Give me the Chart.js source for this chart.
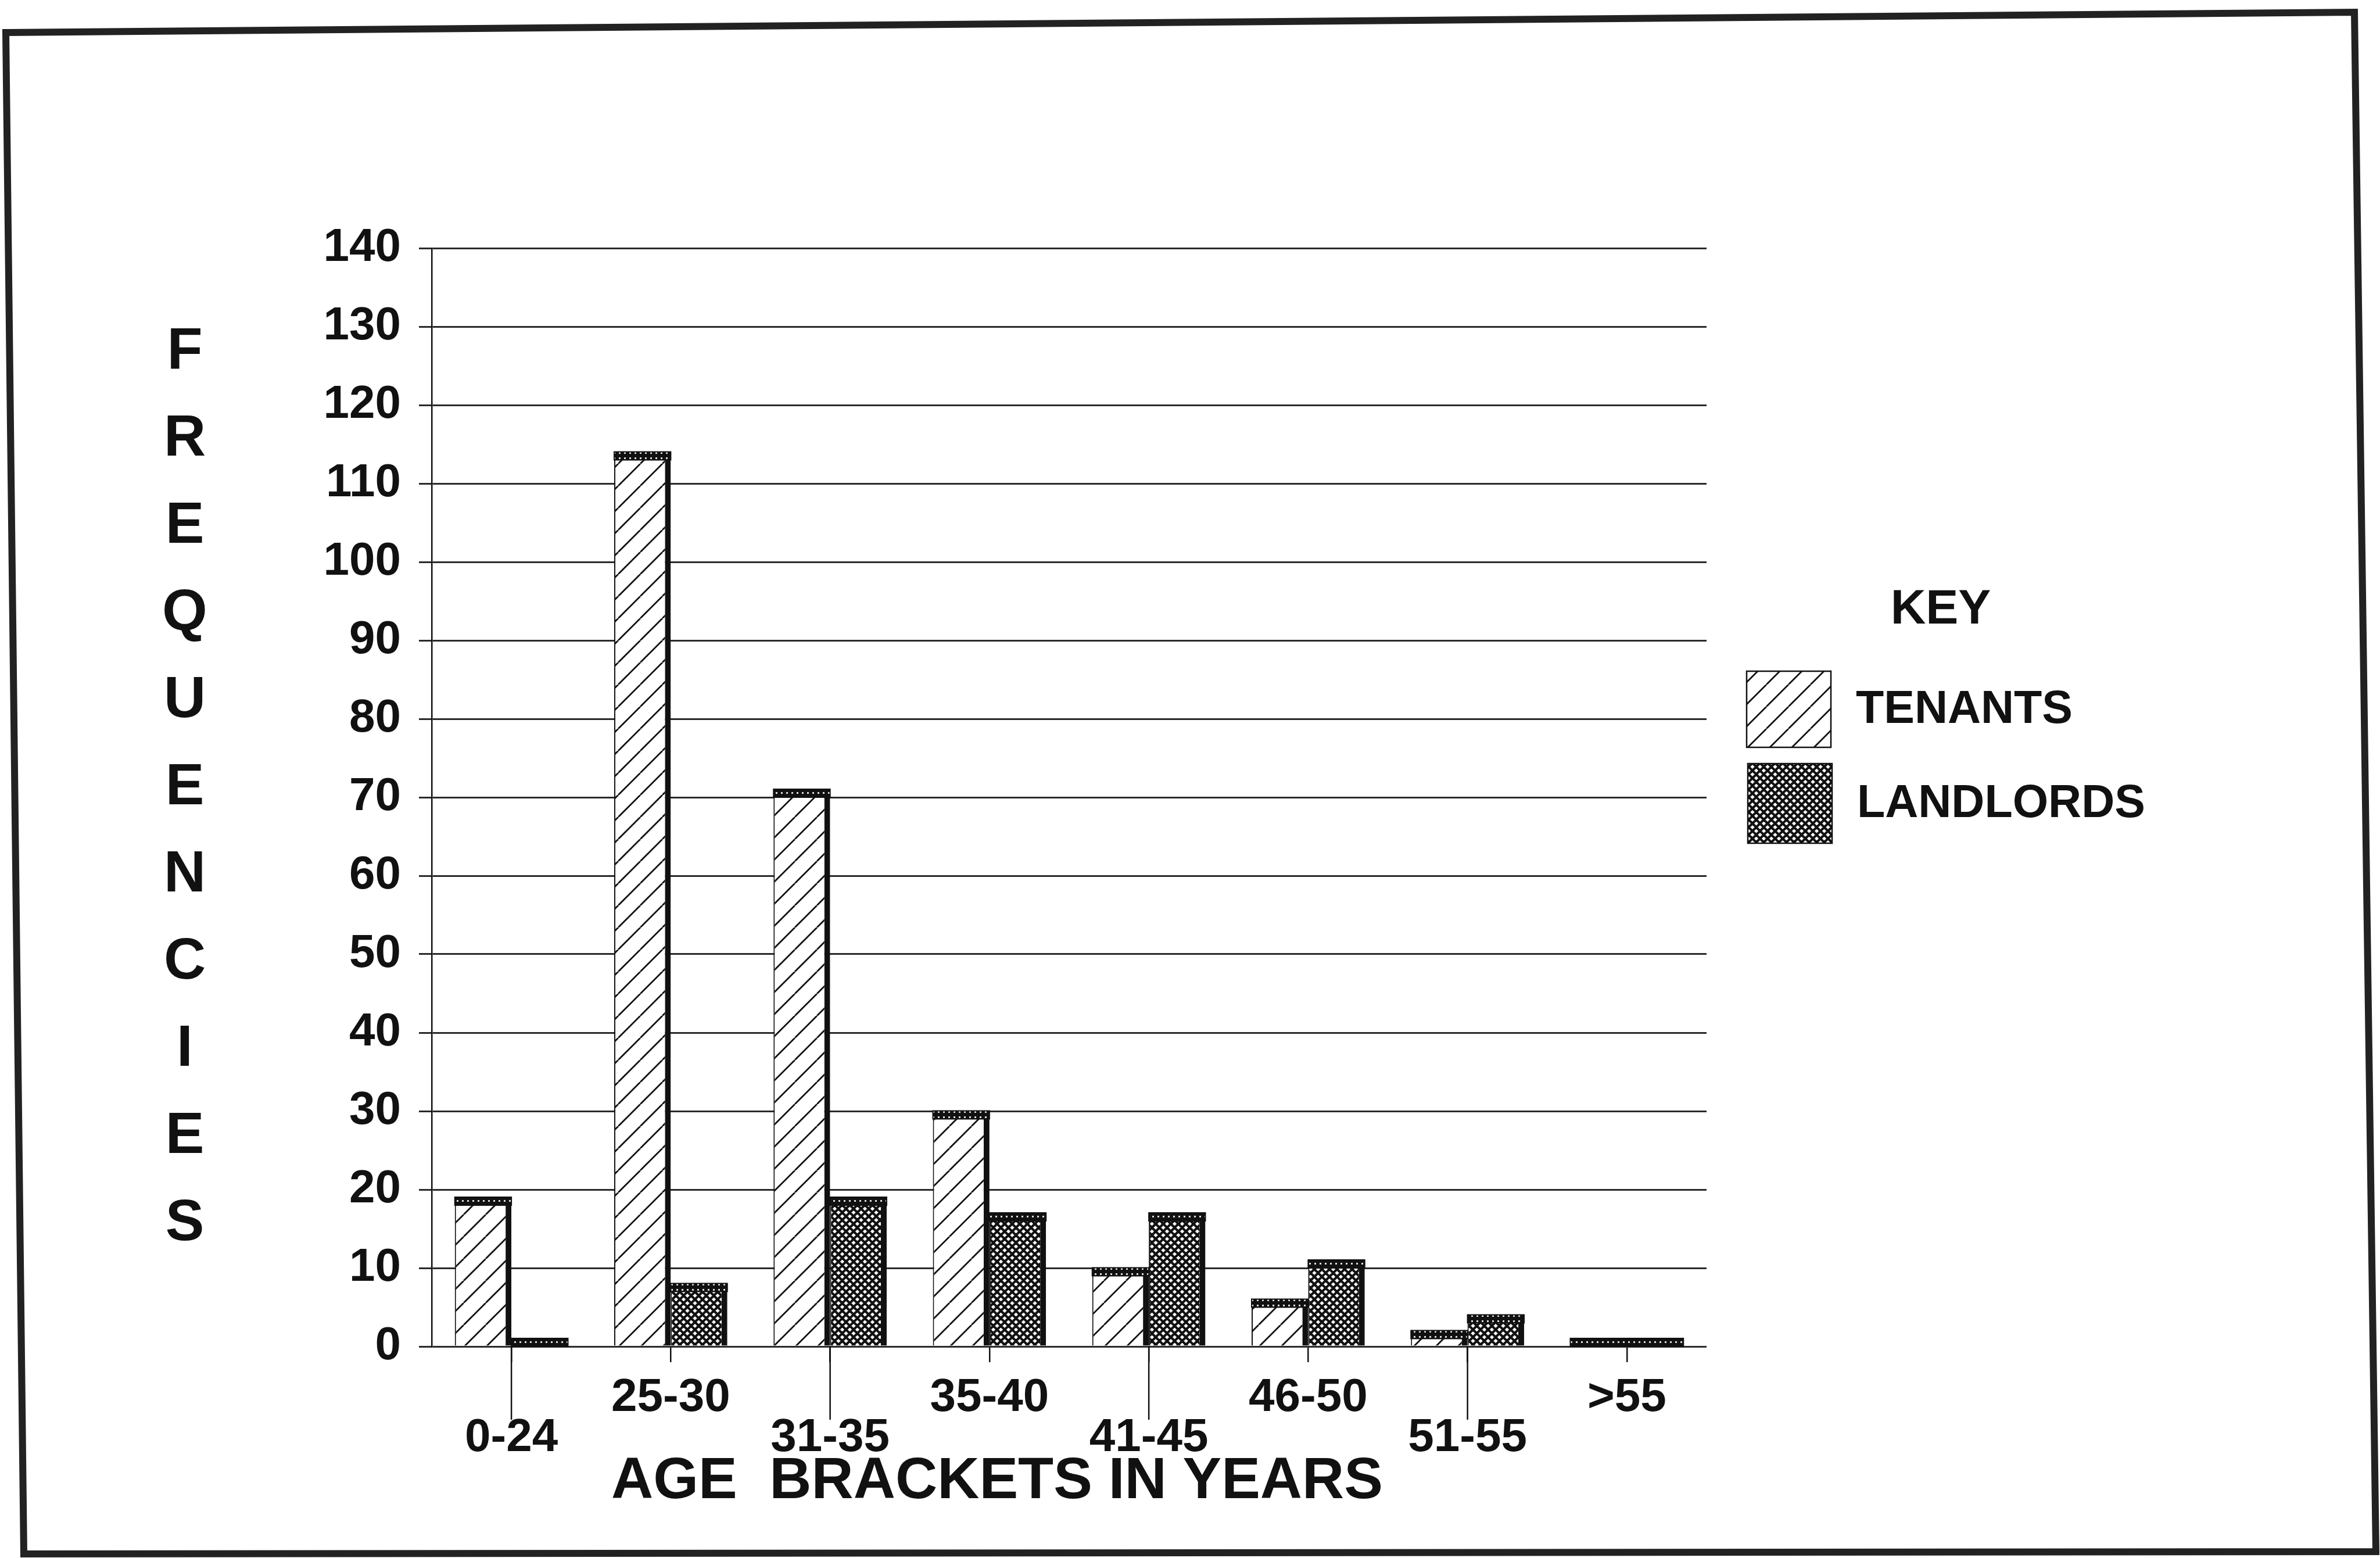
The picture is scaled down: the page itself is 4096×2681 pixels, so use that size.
<!DOCTYPE html>
<html>
<head>
<meta charset="utf-8">
<script src="https://cdn.jsdelivr.net/npm/chart.js@4.4.1/dist/chart.umd.min.js"></script>
<style>
  html, body { margin: 0; padding: 0; background: #fff; }
  #ageChart { display: block; }
</style>
</head>
<body>
<canvas id="ageChart" width="4096" height="2681"></canvas>
<script>
// Categories on the x axis
const ageBrackets = ['0-24', '25-30', '31-35', '35-40', '41-45', '46-50', '51-55', '>55'];

// Frequencies
const tenants = [18, 113, 70, 29, 9, 5, 1, 0];
const landlords = [0, 7, 18, 16, 16, 10, 3, 0];

// y axis range
const yMin = 0;
const yMax = 140;
const yStep = 10;

const seriesNames = ['TENANTS', 'LANDLORDS'];
const yTitle = 'FREQUENCIES';
const xTitle = 'AGE  BRACKETS IN YEARS';
const keyTitle = 'KEY';

const FONT = "'Liberation Sans', Arial, Helvetica, sans-serif";
const INK = '#111';

const canvas = document.getElementById('ageChart');
const ctx = canvas.getContext('2d');

// diagonal hatch for tenants
function makeHatch() {
  const s = 38;
  const c = document.createElement('canvas');
  c.width = s; c.height = s;
  const g = c.getContext('2d');
  g.fillStyle = '#fff';
  g.fillRect(0, 0, s, s);
  g.strokeStyle = INK;
  g.lineWidth = 2.8;
  g.beginPath();
  for (let k = -1; k <= 1; k++) {
    g.moveTo(k * s, s);
    g.lineTo(k * s + s, 0);
  }
  g.stroke();
  return ctx.createPattern(c, 'repeat');
}

// fine cross hatch for landlords
function makeCross() {
  const s = 13;
  const c = document.createElement('canvas');
  c.width = s; c.height = s;
  const g = c.getContext('2d');
  g.fillStyle = '#fff';
  g.fillRect(0, 0, s, s);
  g.strokeStyle = INK;
  g.lineWidth = 4.2;
  g.beginPath();
  for (let k = -1; k <= 1; k++) {
    g.moveTo(k * s, 0); g.lineTo(k * s + s, s);
    g.moveTo(k * s, s); g.lineTo(k * s + s, 0);
  }
  g.stroke();
  return ctx.createPattern(c, 'repeat');
}

// dark dotted band for the 3d tops
function makeCap() {
  const c = document.createElement('canvas');
  c.width = 9; c.height = 9;
  const g = c.getContext('2d');
  g.fillStyle = INK;
  g.fillRect(0, 0, 9, 9);
  g.fillStyle = '#ddd';
  g.fillRect(3, 4, 3, 3);
  return ctx.createPattern(c, 'repeat');
}

const hatch = makeHatch();
const cross = makeCross();
const cap = makeCap();

// top band drawn above every bar, like the old 3d look
const barCaps = {
  id: 'barCaps',
  afterDatasetsDraw(chart) {
    const c = chart.ctx;
    const capH = 14;
    chart.data.datasets.forEach((ds, di) => {
      chart.getDatasetMeta(di).data.forEach(bar => {
        const { x, y, width } = bar.getProps(['x', 'y', 'width'], true);
        c.save();
        c.fillStyle = cap;
        c.fillRect(x - width / 2, y - capH, width, capH);
        c.strokeStyle = INK;
        c.lineWidth = 2;
        c.strokeRect(x - width / 2, y - capH, width, capH);
        c.restore();
      });
    });
  }
};

// titles, key, long ticks and the frame
const decorations = {
  id: 'decorations',
  beforeDraw(chart) {
    const c = chart.ctx;
    c.save();
    c.fillStyle = '#fff';
    c.fillRect(0, 0, chart.width, chart.height);
    c.restore();
  },
  afterDraw(chart) {
    const c = chart.ctx;
    const area = chart.chartArea;
    const xs = chart.scales.x;
    c.save();

    // longer ticks reaching the lower row of labels
    c.strokeStyle = INK;
    c.lineWidth = 2.5;
    ageBrackets.forEach((b, i) => {
      if (i % 2 !== 0) return;
      const px = xs.getPixelForTick(i);
      c.beginPath();
      c.moveTo(px, area.bottom);
      c.lineTo(px, area.bottom + 126);
      c.stroke();
    });

    c.fillStyle = INK;
    c.textBaseline = 'middle';

    // stacked y title
    c.textAlign = 'center';
    c.font = 'bold 100px ' + FONT;
    yTitle.split('').forEach((ch, i) => {
      c.fillText(ch, 318, 606 + 150 * i);
    });

    // x title
    c.font = 'bold 100px ' + FONT;
    c.fillText(xTitle, 1716, 2550);

    // key
    c.font = 'bold 84px ' + FONT;
    c.fillText(keyTitle, 3340, 1050);
    const boxes = [[3006, 1155, 145, 131], [3008, 1314, 145, 137]];
    chart.data.datasets.forEach((ds, i) => {
      const [bx, by, bw, bh] = boxes[i];
      c.fillStyle = ds.backgroundColor;
      c.fillRect(bx, by, bw, bh);
      c.strokeStyle = INK;
      c.lineWidth = 2.5;
      c.strokeRect(bx, by, bw, bh);
      c.fillStyle = INK;
      c.textAlign = 'left';
      c.font = 'bold 79px ' + FONT;
      c.fillText(ds.label, bx + 188, by + bh / 2 + 2);
    });

    // scanned frame
    c.strokeStyle = '#222';
    c.lineWidth = 12;
    c.beginPath();
    c.moveTo(10, 56);
    c.lineTo(4052, 21);
    c.lineTo(4089, 2670);
    c.lineTo(41, 2674);
    c.closePath();
    c.stroke();
    c.restore();
  }
};

Chart.defaults.font.family = FONT;
Chart.defaults.color = INK;

new Chart(ctx, {
  type: 'bar',
  data: {
    labels: ageBrackets,
    datasets: [
      {
        label: seriesNames[0],
        data: tenants,
        backgroundColor: hatch,
        borderColor: INK,
        borderWidth: { left: 2, right: 10, top: 0, bottom: 0 },
        borderSkipped: false
      },
      {
        label: seriesNames[1],
        data: landlords,
        backgroundColor: cross,
        borderColor: INK,
        borderWidth: { left: 2, right: 10, top: 0, bottom: 0 },
        borderSkipped: false
      }
    ]
  },
  options: {
    responsive: false,
    devicePixelRatio: 1,
    animation: false,
    events: [],
    categoryPercentage: 0.71,
    barPercentage: 1.0,
    layout: { padding: { top: 427, right: 1159, bottom: 0, left: 0 } },
    plugins: {
      legend: { display: false },
      tooltip: { enabled: false }
    },
    scales: {
      x: {
        afterFit: scale => { scale.height = 364; },
        border: { display: false },
        grid: {
          offset: false,
          drawOnChartArea: false,
          drawTicks: true,
          tickLength: 27,
          color: INK,
          lineWidth: 2.5
        },
        ticks: {
          autoSkip: false,
          maxRotation: 0,
          padding: 28,
          font: { size: 80, weight: 'bold', lineHeight: 0.86 },
          color: INK,
          callback: (v, i) => (i % 2 === 0 ? ['', ageBrackets[i]] : ageBrackets[i])
        }
      },
      y: {
        min: yMin,
        max: yMax,
        afterFit: scale => { scale.width = 743; },
        border: { display: true, color: INK, width: 2.5 },
        grid: {
          color: '#2a2a2a',
          lineWidth: 3,
          drawTicks: true,
          tickLength: 22
        },
        ticks: {
          stepSize: yStep,
          padding: 31,
          font: { size: 80, weight: 'bold' },
          color: INK
        }
      }
    }
  },
  plugins: [barCaps, decorations]
});
</script>
</body>
</html>
